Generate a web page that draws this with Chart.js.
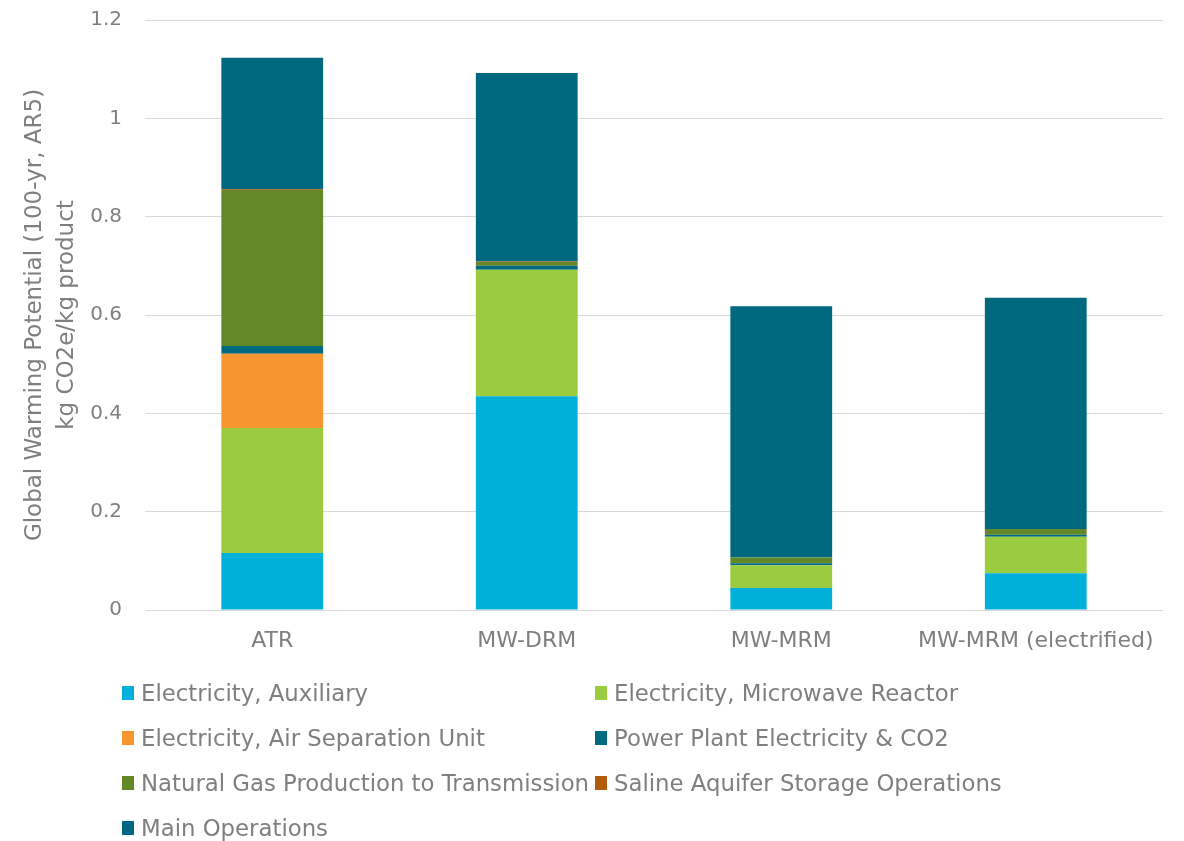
<!DOCTYPE html>
<html>
<head>
<meta charset="utf-8">
<script src="https://cdn.jsdelivr.net/npm/chart.js@4.4.1/dist/chart.umd.min.js"></script>
<style>
  html, body { margin: 0; padding: 0; background: #fff; }
  #wrap { position: relative; width: 1184px; height: 841px; }
  #c { position: absolute; left: 0; top: 0; }
  #legend { position: absolute; left: 122px; top: 679px; width: 1060px;
    display: grid; grid-template-columns: 473px 580px; grid-auto-rows: 45px;
    font-family: "DejaVu Sans", sans-serif; font-size: 22.8px; color: #7f7f7f; }
  .item { display: flex; align-items: center; height: 28px; white-space: nowrap; }
  .box { width: 12px; height: 14px; margin-right: 7px; flex: none; }
</style>
</head>
<body>
<div id="wrap">
  <canvas id="c" width="1184" height="841"></canvas>
  <div id="legend"></div>
</div>
<script>
const categories = ["ATR", "MW-DRM", "MW-MRM", "MW-MRM (electrified)"];
const seriesNames = [
  "Electricity, Auxiliary",
  "Electricity, Microwave Reactor",
  "Electricity, Air Separation Unit",
  "Power Plant Electricity & CO2",
  "Natural Gas Production to Transmission",
  "Saline Aquifer Storage Operations",
  "Main Operations"
];
const elecAux      = [0.116, 0.435, 0.045, 0.075];
const elecMWR      = [0.254, 0.257, 0.046, 0.074];
const elecASU      = [0.151, 0, 0, 0];
const powerPlant   = [0.016, 0.008, 0.004, 0.004];
const naturalGas   = [0.317, 0.008, 0.012, 0.012];
const salineStore  = [0.002, 0.001, 0, 0];
const mainOps      = [0.267, 0.383, 0.511, 0.470];
const yTicks = [0, 0.2, 0.4, 0.6, 0.8, 1, 1.2];
const colors = ["#00B0DA", "#9BCB3F", "#F7952F", "#006A80", "#648728", "#B15B0B", "#00687F"];
const seriesValues = [elecAux, elecMWR, elecASU, powerPlant, naturalGas, salineStore, mainOps];

const datasets = seriesNames.map((name, i) => ({
  label: name, data: seriesValues[i], backgroundColor: colors[i],
  borderWidth: 0, stack: "s", categoryPercentage: 0.8, barPercentage: 0.5
}));

const textColor = "#7f7f7f";
new Chart(document.getElementById("c"), {
  type: "bar",
  data: { labels: categories, datasets },
  options: {
    responsive: false, animation: false,
    layout: { padding: { top: 20, right: 21, left: 0, bottom: 0 } },
    plugins: { legend: { display: false }, tooltip: { enabled: false } },
    scales: {
      x: {
        stacked: true,
        grid: { display: false, drawTicks: false },
        border: { display: false },
        ticks: { color: textColor, font: { family: "DejaVu Sans", size: 22 }, padding: 18, maxRotation: 0 },
        afterFit: s => { s.height = 231; s.paddingLeft = 0; s.paddingRight = 0; }
      },
      y: {
        stacked: true, min: 0, max: 1.2,
        afterBuildTicks: s => { s.ticks = yTicks.map(v => ({ value: v })); },
        grid: { color: "#D9D9D9", lineWidth: 1, drawTicks: false },
        border: { display: false },
        ticks: { color: textColor, font: { family: "DejaVu Sans", size: 20 }, padding: 23,
                 callback: v => String(v) },
        title: { display: true, text: ["Global Warming Potential (100-yr, AR5)", "kg CO2e/kg product"],
                 color: textColor, font: { family: "DejaVu Sans", size: 23, lineHeight: 1.4 },
                 padding: { top: 19, bottom: 0 } },
        afterFit: s => { s.width = 145; s.paddingTop = 0; s.paddingBottom = 0; }
      }
    }
  }
});

const leg = document.getElementById("legend");
seriesNames.forEach((name, i) => {
  const d = document.createElement("div");
  d.className = "item";
  d.innerHTML = '<span class="box" style="background:' + colors[i] + '"></span><span></span>';
  d.lastChild.textContent = name;
  leg.appendChild(d);
});
</script>
</body>
</html>
